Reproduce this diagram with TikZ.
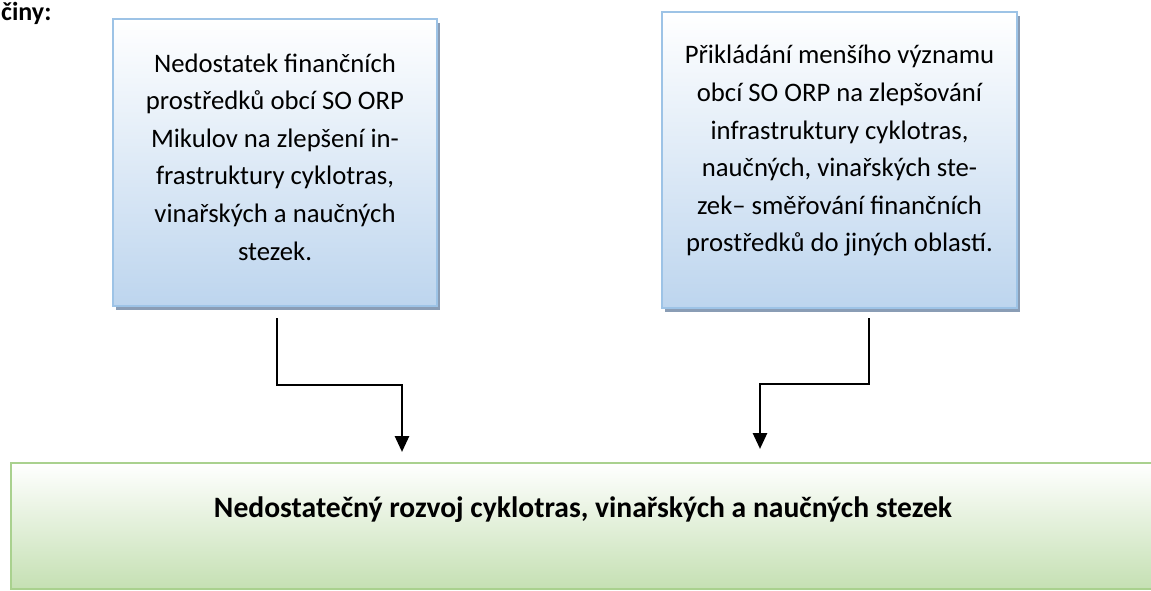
\documentclass[tikz,border=0pt]{standalone}
\usepackage{fontspec}
\setmainfont{Carlito}
\usetikzlibrary{arrows.meta,shadows}
\definecolor{blueB}{HTML}{BDD5EE}
\definecolor{blueBorder}{HTML}{9DC3E6}
\definecolor{shadowc}{HTML}{8A9DB5}
\definecolor{greenB}{HTML}{C5E0B3}
\definecolor{greenBorder}{HTML}{A9D18E}
\tikzset{
  causebox/.style={draw=blueBorder, line width=2pt, top color=white, bottom color=blueB,
    drop shadow={shadow xshift=3pt, shadow yshift=-4pt, fill=shadowc, opacity=1},
    inner sep=0pt},
  effectbox/.style={draw=greenBorder, line width=2pt, top color=white, bottom color=greenB, inner sep=0pt},
  boxtext/.style={align=center, font=\fontsize{26.7}{37.6}\selectfont, inner sep=0pt},
  conn/.style={line width=2.7pt, -{Triangle[width=14pt,length=16pt]}},
}
\begin{document}
\begin{tikzpicture}[x=1pt,y=-1pt]
\useasboundingbox (0,0) rectangle (1151,590);
\node[anchor=base west, font=\fontsize{26}{30}\selectfont\bfseries, inner sep=0pt] (title) at (1,20) {činy:};
\node[causebox, minimum width=324pt, minimum height=287pt] (b1) at (275,162.5) {};
\node[causebox, minimum width=355pt, minimum height=296pt] (b2) at (839.5,160) {};
\node[effectbox, minimum width=1154pt, minimum height=126pt] (g) at (588,526) {};
\node[boxtext] (t1) at (275,157) {Nedostatek finančních\\prostředků obcí SO ORP\\Mikulov na zlepšení in-\\frastruktury cyklotras,\\vinařských a naučných\\stezek.};
\node[boxtext] (t2) at (839.5,151) {Přikládání menšího významu\\obcí SO ORP na zlepšování\\infrastruktury cyklotras,\\naučných, vinařských ste-\\zek– směřování finančních\\prostředků do jiných oblastí.};
\node[inner sep=0pt, font=\fontsize{29.6}{32}\selectfont\bfseries, anchor=base] (gt) at (583,517) {Nedostatečný rozvoj cyklotras, vinařských a naučných stezek};
\coordinate (m1) at (402,385);
\coordinate (m2) at (760,384);
\draw[conn] ([xshift=2pt,yshift=-11pt]b1.south) |- (m1) -- ([yshift=10pt]g.north -| m1);
\draw[conn] ([xshift=29.5pt,yshift=-9pt]b2.south) |- (m2) -- ([yshift=13pt]g.north -| m2);
\end{tikzpicture}
\end{document}
